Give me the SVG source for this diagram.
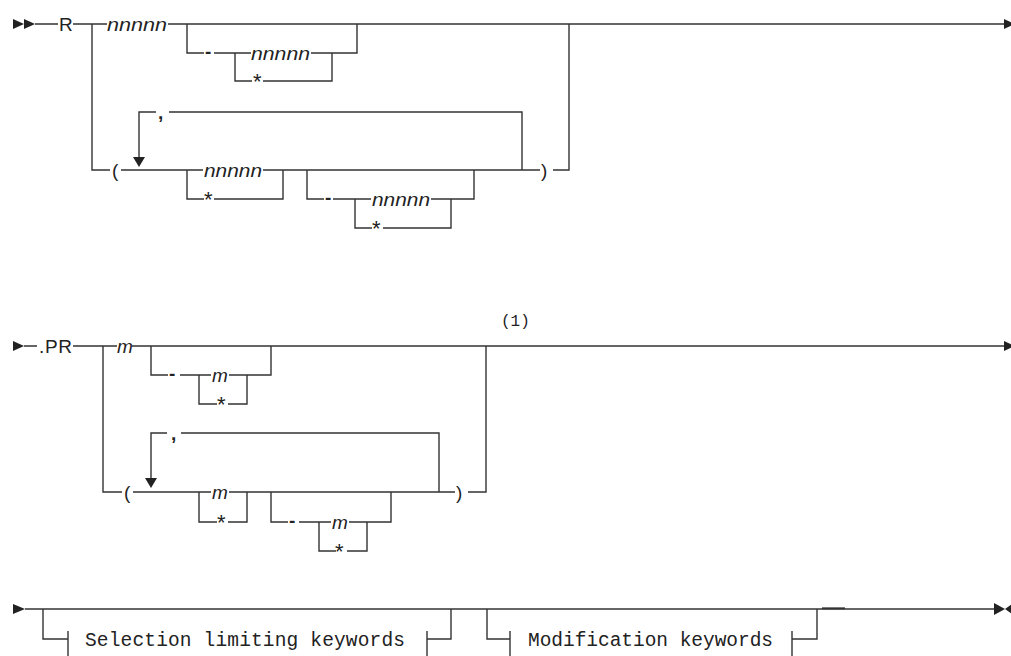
<svg xmlns="http://www.w3.org/2000/svg" width="1011" height="656" viewBox="0 0 1011 656">
<style>
.ln{fill:none;stroke:#333;stroke-width:1.4}
.ar{fill:#222;stroke:none}
.t{font-family:"Liberation Sans",Arial,sans-serif;font-size:19px;fill:#222}
.i{font-style:italic}
.d{font-weight:bold}
.s{font-size:22px}
.m{font-family:"Liberation Mono","DejaVu Sans Mono",monospace;fill:#222}
</style>
<rect width="1011" height="656" fill="#fff"/>
<g id="connectors">
<path class="ln" d="M35 24H58M73 24H107M168 24H1005"/>
<path class="ln" d="M92 24V170H110"/>
<path class="ln" d="M187 24V53H204M214 53H251M311 53H357V24"/>
<path class="ln" d="M235 53V81H252M263 81H332V53"/>
<path class="ln" d="M121 170H203M263 170H540M553 170H569V24"/>
<path class="ln" d="M139 158V112H156M169 112H522V170"/>
<path class="ln" d="M187 170V199H204M214 199H283V170"/>
<path class="ln" d="M307 170V199H324M333 199H371M431 199H474V170"/>
<path class="ln" d="M355 199V228H372M383 228H451V199"/>
<polygon class="ar" points="13,19 24,24 13,29"/>
<polygon class="ar" points="24,19 35,24 24,29"/>
<polygon class="ar" points="1004,19 1015,24 1004,29"/>
<polygon class="ar" points="133,157 145,157 139,167"/>
<path class="ln" d="M24 346H37M73 346H117M132 346H1004"/>
<path class="ln" d="M103 346V492H122"/>
<path class="ln" d="M151 346V375H168M180 375H211M229 375H271V346"/>
<path class="ln" d="M199 375V404H217M228 404H247V375"/>
<path class="ln" d="M133 492H211M229 492H455M468 492H486V346"/>
<path class="ln" d="M151 479V433H167M181 433H439V492"/>
<path class="ln" d="M199 492V522H217M228 522H247V492"/>
<path class="ln" d="M271 492V522H288M299 522H331M349 522H391V492"/>
<path class="ln" d="M319 522V551H336M347 551H367V522"/>
<polygon class="ar" points="13,341 24,346 13,351"/>
<polygon class="ar" points="1004,341 1015,346 1004,351"/>
<polygon class="ar" points="145,478 157,478 151,488"/>
<path class="ln" d="M25 609H994"/>
<path class="ln" d="M822 608.3H845" style="stroke-width:1.9"/>
<path class="ln" d="M43 609V639H68M68 631V660M427 631V660M427 639H451V609"/>
<path class="ln" d="M487 609V639H510M510 631V660M792 631V660M792 639H817V609"/>
<polygon class="ar" points="13,604 25,609 13,614"/>
<polygon class="ar" points="994,603 1005,609 994,615"/>
<polygon class="ar" points="1012,604 1005,609 1012,614"/>
</g>
<g id="kw-R"><text class="t" x="59" y="31">R</text></g>
<g id="var-n1"><text class="t i" x="107" y="31" textLength="60" lengthAdjust="spacingAndGlyphs">nnnnn</text></g>
<g id="dash-1"><text class="t d" x="205" y="58">-</text></g>
<g id="var-n2"><text class="t i" x="251" y="60" textLength="59" lengthAdjust="spacingAndGlyphs">nnnnn</text></g>
<g id="star-1"><text class="t s" x="253" y="89">*</text></g>
<g id="lparen-1"><text class="t" x="112" y="177">(</text></g>
<g id="comma-1"><text class="t d" x="158" y="119">,</text></g>
<g id="var-n3"><text class="t i" x="204" y="177" textLength="58" lengthAdjust="spacingAndGlyphs">nnnnn</text></g>
<g id="star-2"><text class="t s" x="204" y="207">*</text></g>
<g id="dash-2"><text class="t d" x="325" y="204">-</text></g>
<g id="var-n4"><text class="t i" x="372" y="206" textLength="58" lengthAdjust="spacingAndGlyphs">nnnnn</text></g>
<g id="star-3"><text class="t s" x="372" y="236">*</text></g>
<g id="rparen-1"><text class="t" x="541" y="177">)</text></g>
<g id="kw-PR"><text class="t" x="39" y="353" textLength="33">.PR</text></g>
<g id="var-m1"><text class="t i" x="117" y="353" textLength="15">m</text></g>
<g id="dash-3"><text class="t d" x="169" y="380">-</text></g>
<g id="var-m2"><text class="t i" x="212" y="382" textLength="15">m</text></g>
<g id="star-4"><text class="t s" x="217" y="412">*</text></g>
<g id="note-1"><text class="m" x="501" y="326" font-size="16">(1)</text></g>
<g id="lparen-2"><text class="t" x="124" y="499">(</text></g>
<g id="comma-2"><text class="t d" x="171" y="440">,</text></g>
<g id="var-m3"><text class="t i" x="212" y="499" textLength="15">m</text></g>
<g id="star-5"><text class="t s" x="217" y="530">*</text></g>
<g id="dash-4"><text class="t d" x="289" y="527">-</text></g>
<g id="var-m4"><text class="t i" x="332" y="529" textLength="15">m</text></g>
<g id="star-6"><text class="t s" x="335" y="559">*</text></g>
<g id="rparen-2"><text class="t" x="456" y="499">)</text></g>
<g id="frag-selection"><text class="m" x="85" y="646" font-size="19.5" textLength="320">Selection limiting keywords</text></g>
<g id="frag-modification"><text class="m" x="528" y="646" font-size="19.5" textLength="245">Modification keywords</text></g>
</svg>
